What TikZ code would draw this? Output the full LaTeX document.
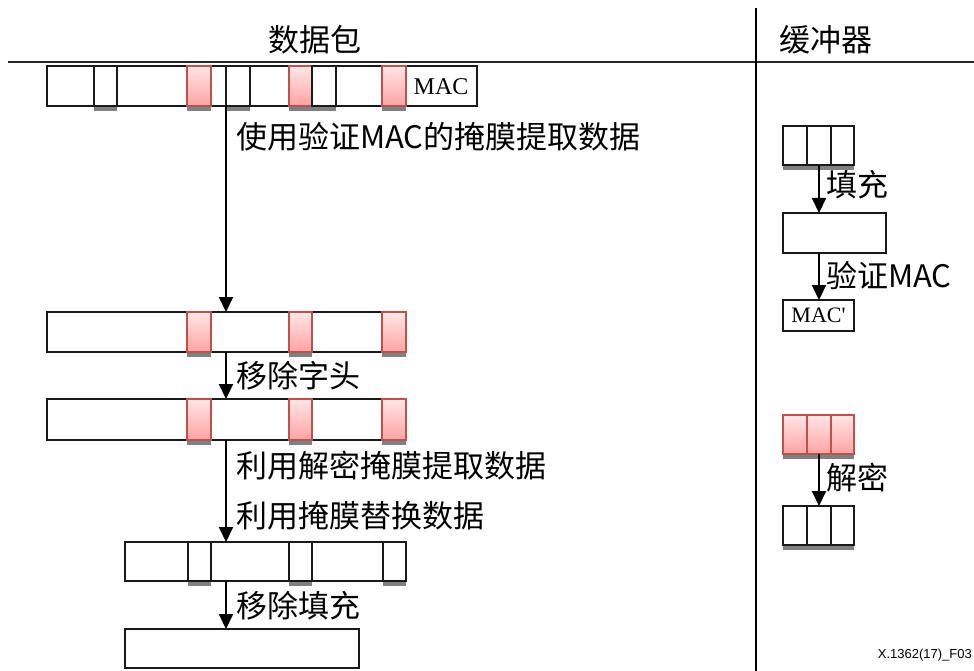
\documentclass[tikz,border=0pt]{standalone}
\usepackage{fontspec}
\setmainfont{Liberation Serif}
\newfontfamily\cjk{Noto Sans CJK SC}
\newfontfamily\arialf{Liberation Sans}
\usetikzlibrary{arrows.meta}
\definecolor{pinktop}{HTML}{FFE6E6}
\definecolor{pinkbot}{HTML}{FFA3A3}
\definecolor{pinkedge}{HTML}{C0504D}
\definecolor{shad}{HTML}{808080}
\definecolor{edge}{HTML}{1A1A1A}
\tikzset{
  box/.style={draw=edge, line width=1.8pt, fill=white, inner sep=0pt, outer sep=0pt},
  pinkbox/.style={draw=pinkedge, line width=1.8pt, top color=pinktop, bottom color=pinkbot, inner sep=0pt, outer sep=0pt},
  arr/.style={draw=black, line width=2pt, -{Triangle[width=14pt,length=15pt]}},
  lbl/.style={font=\cjk\fontsize{31}{34}\selectfont, anchor=west, inner sep=0pt},
  hdr/.style={font=\cjk\fontsize{31}{34}\selectfont, inner sep=0pt},
  mactext/.style={font=\fontsize{24}{26}\selectfont, inner sep=0pt},
}
\newcommand\rbox[6]{\node[#2, minimum width={#4-#3}, minimum height={#6-#5}] (#1) at ({(#3+#4)/2},{(#5+#6)/2}) {};}
\newcommand\shd[3]{\fill[shad] (#1,{#3+0.9}) rectangle (#2,{#3+4.8});}
\begin{document}
\begin{tikzpicture}[x=1pt,y=-1pt]
\useasboundingbox (0,0) rectangle (974,671);
% frame lines
\draw[line width=2pt, black!85] (8,62) -- (974,62);
\draw[line width=1.3pt, black] (756,8) -- (756,671);
\node[hdr] (h1) at (315,40) {数据包};
\node[hdr] (h2) at (826,40) {缓冲器};
% row 1
\rbox{r1}{box}{47}{477}{66}{106}
\shd{94}{117}{106}\shd{187}{211}{106}\shd{226}{250}{106}\shd{289}{336}{106}\shd{382}{406}{106}
\rbox{r1a}{box}{94}{117}{66}{106}
\rbox{r1b}{pinkbox}{187}{211}{66}{106}
\rbox{r1c}{box}{226}{250}{66}{106}
\rbox{r1d}{pinkbox}{289}{312}{66}{106}
\rbox{r1e}{box}{312}{336}{66}{106}
\rbox{r1f}{pinkbox}{382}{406}{66}{106}
\node[mactext] (mac1) at (441,87) {MAC};
% row 2
\rbox{r2}{box}{47}{406}{312}{352}
\shd{187}{211}{352}\shd{289}{312}{352}\shd{382}{406}{352}
\rbox{r2a}{pinkbox}{187}{211}{312}{352}
\rbox{r2b}{pinkbox}{289}{312}{312}{352}
\rbox{r2c}{pinkbox}{382}{406}{312}{352}
% row 3
\rbox{r3}{box}{47}{406}{399}{440}
\shd{187}{211}{440}\shd{289}{312}{440}\shd{382}{406}{440}
\rbox{r3a}{pinkbox}{187}{211}{399}{440}
\rbox{r3b}{pinkbox}{289}{312}{399}{440}
\rbox{r3c}{pinkbox}{382}{406}{399}{440}
% row 4
\rbox{r4}{box}{125}{406}{542}{581}
\shd{188}{211}{581}\shd{289}{312}{581}\shd{383}{406}{581}
\rbox{r4a}{box}{188}{211}{542}{581}
\rbox{r4b}{box}{289}{312}{542}{581}
\rbox{r4c}{box}{383}{406}{542}{581}
% row 5
\rbox{r5}{box}{125}{359}{629}{668}
% arrows left
\coordinate (ax) at (226,0);
\draw[arr] (ax |- r1.south) -- (ax |- r2.north);
\draw[arr] (ax |- r2.south) -- (ax |- r3.north);
\draw[arr] (ax |- r3.south) -- (ax |- r4.north);
\draw[arr] (ax |- r4.south) -- (ax |- r5.north);
\node[lbl] (l1) at (236,137) {使用验证MAC的掩膜提取数据};
\node[lbl] (l2) at (236,376) {移除字头};
\node[lbl] (l3) at (236,466) {利用解密掩膜提取数据};
\node[lbl] (l4) at (236,516) {利用掩膜替换数据};
\node[lbl] (l5) at (236,606) {移除填充};
% buffer side
\shd{783}{854}{165}
\rbox{b1a}{box}{783}{807}{126}{165}
\rbox{b1b}{box}{807}{831}{126}{165}
\rbox{b1c}{box}{831}{854}{126}{165}
\rbox{b2}{box}{783}{886}{213}{253}
\node[box, minimum width=71, minimum height=31] (b3) at (818.5,315.5) {};
\node[mactext, font=\fontsize{22}{24}\selectfont] (mac2) at (b3) {MAC\textquotesingle};
\shd{783}{854}{454}
\rbox{b4a}{pinkbox}{783}{807}{415}{454}
\rbox{b4b}{pinkbox}{807}{831}{415}{454}
\rbox{b4c}{pinkbox}{831}{854}{415}{454}
\shd{783}{854}{545}
\rbox{b5a}{box}{783}{807}{506}{545}
\rbox{b5b}{box}{807}{831}{506}{545}
\rbox{b5c}{box}{831}{854}{506}{545}
\coordinate (bx) at (819,0);
\draw[arr] (b1b.south) -- (bx |- b2.north);
\draw[arr] (bx |- b2.south) -- (bx |- b3.north);
\draw[arr] (b4b.south) -- (b5b.north);
\node[lbl] (l6) at (826,185) {填充};
\node[lbl] (l7) at (826,275) {验证MAC};
\node[lbl] (l8) at (826,478) {解密};
\node[font=\arialf\fontsize{13}{15}\selectfont, anchor=east, inner sep=0pt] (fn) at (972,655) {X.1362(17)\_F03};
\end{tikzpicture}
\end{document}
